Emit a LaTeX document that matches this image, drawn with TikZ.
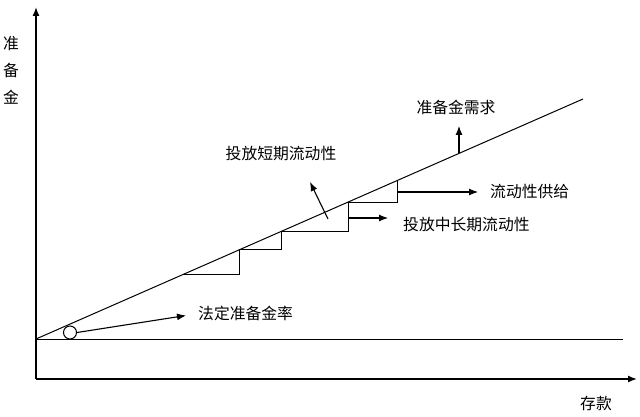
\documentclass[tikz,border=0pt]{standalone}
\usepackage{fontspec}
\setmainfont{Noto Sans CJK SC}
\usetikzlibrary{arrows.meta,calc}
\tikzset{
  axis/.style={line width=1.4pt,-{Latex[length=9pt,width=7pt]}},
  thin/.style={line width=1pt},
  arr/.style={line width=1.1pt,-{Latex[length=9pt,width=7pt]}},
  lbl/.style={inner sep=0pt,font=\fontsize{15.8}{18}\selectfont},
}
\begin{document}
\begin{tikzpicture}[x=1pt,y=-1pt]
\useasboundingbox (0,0) rectangle (640,417);
% axes
\coordinate (O) at (36,379);
\coordinate (ytop) at (36,7);
\coordinate (xend) at (637,379);
\draw[axis] (O) -- (ytop);
\draw[axis] (O) -- (xend);
\node[lbl,align=center,font=\fontsize{15.8}{27}\selectfont] (ylab) at (11,70) {准\\备\\金};
\node[lbl] (xlab) at (596,404) {存款};
% base line and demand line
\coordinate (B0) at (36,339);
\coordinate (B1) at (623,339);
\draw[thin] (B0) -- (B1);
\coordinate (E) at (583,99);
\draw[thin] (B0) -- (E);
% staircase
\coordinate (S0) at (183,274.5);
\coordinate (S1) at (239,249.9);
\coordinate (S2) at (281,231.5);
\coordinate (S3) at (348,202.1);
\coordinate (S4) at (397,180.6);
\draw[thin] (S0) -- (S0 -| S1) -- (S1) -- (S1 -| S2) -- (S2) -- (S2 -| S3) -- (S3) -- (S3 -| S4) -- (S4);
% circle and rate arrow
\node[draw,thin,circle,minimum size=13pt,inner sep=0pt,fill=white] (circ) at (70,332.5) {};
\node[lbl,anchor=west] (rate) at (198,313) {法定准备金率};
\coordinate (rtip) at (186,315.5);
\draw[arr] (circ.east) -- (rtip);
% liquidity supply
\node[lbl,anchor=west] (supply) at (490,192) {流动性供给};
\coordinate (s4m) at (397,192);
\coordinate (s4t) at (478,192);
\draw[arr] (s4m) -- (s4t);
% medium/long term
\node[lbl,anchor=west] (mlt) at (403,225) {投放中长期流动性};
\coordinate (s3m) at (348,218);
\coordinate (s3t) at (388,218);
\draw[arr] (s3m) -- (s3t);
% short term
\node[lbl] (st) at (281,154) {投放短期流动性};
\coordinate (stb) at (328,219);
\coordinate (stt) at (310,182);
\draw[arr] (stb) -- (stt);
% reserve demand
\node[lbl] (rd) at (456,107) {准备金需求};
\coordinate (rdb) at (459,153.5);
\coordinate (rdt) at (459,126);
\draw[arr] (rdb) -- (rdt);
\end{tikzpicture}
\end{document}
